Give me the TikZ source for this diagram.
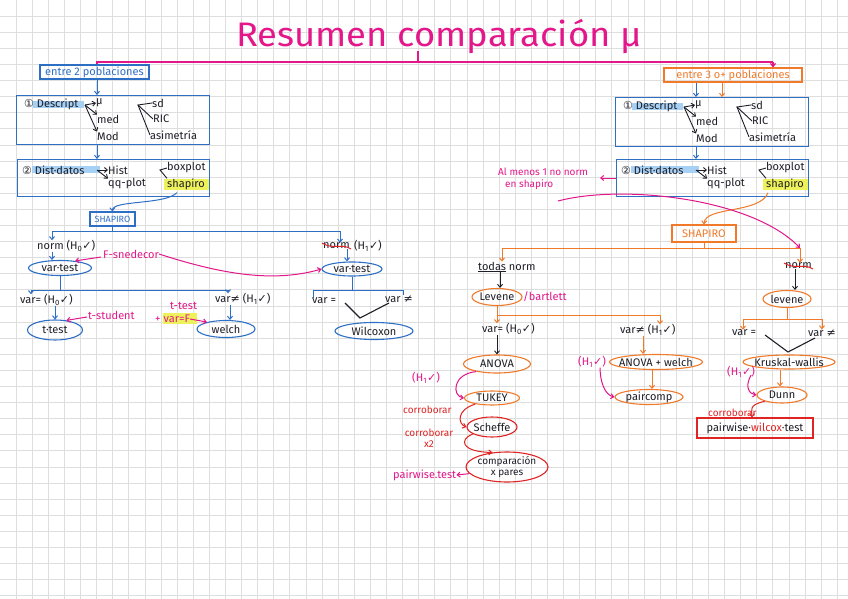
\documentclass[tikz,border=0pt]{standalone}
\usepackage{fontspec}
\setmainfont{Fira Sans}
\newfontfamily\sym{DejaVu Sans}
\usetikzlibrary{arrows.meta,shapes.geometric,calc}
\definecolor{cblue}{HTML}{2E6FC6}
\definecolor{cmag}{HTML}{E3168A}
\definecolor{corange}{HTML}{F07A2A}
\definecolor{cred}{HTML}{E02424}
\definecolor{ctext}{HTML}{1E1E28}
\definecolor{cgrid}{HTML}{DEDEDE}
\definecolor{hlblue}{HTML}{A6D0F4}
\definecolor{hlyellow}{HTML}{EEF25A}
\newcommand{\chk}{{\sym ✓}}
\newcommand{\neqs}{{\sym ≠}}
\newcommand{\hzero}{(H\textsubscript{0}\chk)}
\newcommand{\hone}{(H\textsubscript{1}\chk)}
\tikzset{
  every node/.style={inner sep=0pt, text=ctext, font=\fontsize{11}{12}\selectfont},
  lbl/.style={anchor=west},
  sz/.style 2 args={minimum width=#1, minimum height=#2},
  bluebox/.style={draw=cblue, line width=1.1pt},
  orbox/.style={draw=corange, line width=1.1pt},
  redbox/.style={draw=cred, line width=1.1pt},
  ell/.style 2 args={ellipse, line width=1.1pt, inner xsep=-8pt, inner ysep=-3pt, minimum width=#1, minimum height=#2},
  bl/.style={draw=cblue, line width=1pt},
  or/.style={draw=corange, line width=1pt},
  mg/.style={draw=cmag, line width=1pt},
  rd/.style={draw=cred, line width=1pt},
  bk/.style={draw=ctext, line width=0.9pt},
  ah/.style={-{Straight Barb[length=3pt,width=5pt]}},
  descr/.pic={
    \fill[hlblue] (17,6) rectangle (68,13);
    \node[bluebox, sz={193}{49}, anchor=north west] (-box) at (0,0) {};
    \node[lbl] (-t) at (8,9) {{\sym ①} Descript};
    \node[lbl] (-mu) at (80,8) {μ};
    \node[lbl] (-med) at (81,24) {med};
    \node[lbl] (-mod) at (81,41) {Mod};
    \node[lbl] (-sd) at (136,8) {sd};
    \node[lbl] (-ric) at (137,24) {RIC};
    \node[lbl] (-asi) at (134,40) {asimetría};
    \coordinate (-f1) at (69,10);
    \coordinate (-f2) at (122,10);
    \draw[bk,ah] (-f1) -- (-mu.west);
    \draw[bk,ah] (-f1) -- (-med.north west);
    \draw[bk,ah] (-f1) -- (-mod.north west);
    \draw[bk] (-sd.west) -- (-f2) -- (-ric.west);
    \draw[bk] (-f2) -- (-asi.west);
  },
  distd/.pic={
    \fill[hlblue] (15,7) rectangle (83,14);
    \fill[hlyellow] (147,20) rectangle (192,31);
    \node[bluebox, sz={192}{37}, anchor=north west] (-box) at (0,0) {};
    \node[lbl] (-t) at (5,11) {{\sym ②} Dist·datos};
    \node[lbl] (-hist) at (91,11) {Hist};
    \node[lbl] (-qq) at (91,25) {qq-plot};
    \node[lbl] (-bp) at (150,9) {boxplot};
    \node[lbl] (-sh) at (150,25) {shapiro};
    \coordinate (-f1) at (80,11);
    \coordinate (-f2) at (143,11);
    \draw[bk,ah] (-f1) -- (-hist.west);
    \draw[bk,ah] (-f1) -- (-qq.north west);
    \draw[bk] (-bp.west) -- (-f2) -- (-sh.north west);
  }
}
\begin{document}
\begin{tikzpicture}[x=1pt,y=-1pt]
\useasboundingbox (0,0) rectangle (848,599);
\fill[white] (0,0) rectangle (848,599);
\foreach \i in {1,...,52} \draw[cgrid, line width=0.8pt] (16.1*\i,0) -- (16.1*\i,599);
\foreach \i in {1,...,37} \draw[cgrid, line width=0.8pt] (0,16.1*\i) -- (848,16.1*\i);

% title
\node[text=cmag, font=\fontsize{34}{40}\selectfont] (title) at (439,37) {\scalebox{1.07}[1]{Resumen comparación μ}};
\coordinate (tl) at (97,62);
\coordinate (tr) at (773,62);
\coordinate (tk) at (418,51);
\draw[mg, line width=1.3pt] (tk) -- (tk |- tl);

% ---------- left ----------
\node[bluebox, sz={109}{14}, text=cblue] (e2) at (94.5,72) {entre 2 poblaciones};
\draw[mg, line width=1.3pt] (e2.north -| tl) -- (tl) -- (tr);
\pic (L1) at (16,95) {descr};
\pic (L2) at (17,159) {distd};
\draw[bl,ah] (e2.south -| tl) -- (L1-box.north -| tl);
\draw[bl,ah] (L1-box.south -| tl) -- (L2-box.north -| tl);

\node[bluebox, sz={45}{14}, text=cblue, font=\fontsize{9}{10}\selectfont] (sh1) at (112.5,219) {SHAPIRO};
\draw[bl,ah] ($(L2-sh.south west)+(10,3)$) .. controls (165,205) and (112,200) .. (sh1.north);
\coordinate (j1l) at (52,231);
\coordinate (j1r) at (340,231);
\draw[bl] (sh1.south) -- (sh1.south |- j1l);
\draw[bl] (j1l) -- (j1r);
\node[lbl] (n1) at (37,246) {norm \hzero};
\node[lbl] (n2a) at (323,246) {norm};
\node[lbl] (n2b) at ($(n2a.east)+(4,0)$) {\hone};
\draw[rd] ($(n2a.west)+(-1,-3)$) .. controls ($(n2a.center)+(-4,4)$) and ($(n2a.center)+(6,-3)$) .. ($(n2a.east)+(1,3)$);
\draw[bl,ah] (j1l) -- (j1l |- n1.north);
\draw[bl,ah] (j1r) -- (j1r |- n2a.north);

\node[ell={63}{15}, draw=cblue] (vt1) at (60,268) {var·test};
\node[ell={60}{14}, draw=cblue] (vt2) at (352,269) {var·test};
\draw[bl,ah] (n1.south -| j1l) -- (vt1.north -| j1l);
\coordinate (c347) at (347,0);
\draw[bl,ah] (n2a.south -| c347) -- (vt2.north -| c347);
\node[lbl, text=cmag] (fsn) at (103,254) {F-snedecor};
\draw[mg,ah] ($(fsn.west)+(-2,3)$) -- (vt1.25);
\draw[mg,ah] (fsn.east) .. controls (215,272) and (270,284) .. (vt2.west);

\coordinate (j2l) at (31,290);
\coordinate (j2r) at (228,290);
\draw[bl] (vt1.south) -- (vt1.south |- j2l);
\draw[bl] (j2l) -- (j2r);
\node[lbl] (v1) at (20,300) {var= \hzero};
\node[lbl] (v2) at (215,299) {var\neqs{} \hone};
\draw[bl,ah] (j2l) -- (j2l |- v1.north);
\draw[bl,ah] (j2r) -- (j2r |- v2.north);
\node[ell={55}{20}, draw=cblue] (t1) at (55,330) {t·test};
\draw[bl,ah] (v1.south -| t1) -- (t1.north);
\node[lbl, text=cmag] (tst) at (88,315) {t-student};
\draw[mg,ah] ($(tst.west)+(-1,2)$) -- (t1.40);
\node[ell={58}{17}, draw=cblue] (w1) at (226,329) {welch};
\coordinate (c230) at (230,0);
\draw[bl,ah] (v2.south -| c230) -- (w1.north -| c230);
\node[lbl, text=cmag] (tt) at (170,306) {t-test};
\fill[hlyellow] (163,313) rectangle (197,324);
\node[lbl, text=cmag] (pv) at (155,319) {+ var=F};
\draw[mg,ah] (pv.east) -- (w1.160);

\coordinate (j3l) at (313,290);
\coordinate (j3r) at (403,290);
\draw[bl] (vt2.south) -- (vt2.south |- j3l);
\draw[bl] (j3l) -- (j3r);
\node[lbl] (v3) at (312,301) {var =};
\node[lbl] (v4) at (385,299) {var \neqs};
\draw[bl] (j3l) -- (j3l |- v3.north);
\draw[bl] (j3r) -- (j3r |- v4.north);
\coordinate (vv1) at (345,303);
\coordinate (vv2) at (360,318);
\coordinate (vv3) at (389,303);
\draw[bk, line width=1.1pt] (vv1) -- (vv2) -- (vv3);
\node[ell={78}{17}, draw=cblue] (wil) at (374,331) {Wilcoxon};

% ---------- right ----------
\node[orbox, sz={138}{14}, text=corange] (e3) at (733,75) {entre 3 o+ poblaciones};
\draw[mg,ah, line width=1.3pt] (tr) -- (tr |- e3.north);
\pic (R1) at (615,97) {descr};
\pic (R2) at (616,159) {distd};
\coordinate (c696) at (696,0);
\coordinate (c722) at (722,0);
\draw[bl,ah] (e3.south -| c696) -- (R1-box.north -| c696);
\draw[or,ah] (e3.south -| c722) -- (R1-box.north -| c722);
\draw[bl,ah] (R1-box.south -| c696) -- (R2-box.north -| c696);

\node[lbl, text=cmag, font=\fontsize{10}{11}\selectfont] (alm) at (498,172) {Al menos 1 no norm};
\node[lbl, text=cmag, font=\fontsize{10}{11}\selectfont] (alm2) at (505,185) {en shapiro};
\coordinate (almtip) at (600,178);
\draw[mg,ah] (R2-box.west |- almtip) -- (almtip);

\node[orbox, sz={64}{17}, text=corange] (sh2) at (704,233.5) {SHAPIRO};
\draw[or,ah] ($(R2-sh.south west)+(2,3)$) .. controls (760,214) and (705,206) .. (sh2.north);
\coordinate (j4l) at (502,248);
\coordinate (j4r) at (800,248);
\coordinate (mgs) at (558,201);
\draw[mg,ah] (mgs) .. controls (622,184) and (752,198) .. (j4r);
\draw[or] (sh2.south) -- (sh2.south |- j4l);
\draw[or] (j4l) -- (j4r);
\node[lbl] (tn) at (478,267) {\underline{todas} norm};
\node[lbl] (n4) at (785,266) {norm};
\draw[rd] ($(n4.west)+(-1,-3)$) .. controls ($(n4.center)+(-4,4)$) and ($(n4.center)+(6,-3)$) .. ($(n4.east)+(1,3)$);
\draw[or,ah] (j4l) -- (j4l |- tn.north);
\draw[or,ah] (j4r) -- (j4r |- n4.north);

\node[ell={50}{17}, draw=corange] (lev1) at (497,297) {Levene};
\node[lbl, text=cmag] (bart) at (523,297) {/bartlett};
\node[ell={48}{17}, draw=corange] (lev2) at (787,299) {levene};
\coordinate (c500) at (500,0);
\coordinate (c795) at (795,0);
\draw[bk,ah] (tn.south -| c500) -- (lev1.north -| c500);
\draw[bk,ah] (n4.south -| c795) -- (lev2.north -| c795);

\coordinate (j5l) at (500,315);
\coordinate (j5r) at (660,315);
\node[lbl] (v5) at (482,329) {var= \hzero};
\node[lbl] (v6) at (620,330) {var\neqs{} \hone};
\draw[or] (lev1.south |- j5l) -- (j5r);
\draw[or,ah] (lev1.south) -- (lev1.south |- v5.north);
\draw[or,ah] (j5r) -- (j5r |- v6.north);

\node[ell={67}{18}, draw=corange] (anova) at (497,364) {ANOVA};
\draw[bk,ah] (v5.south -| anova) -- (anova.north);
\node[lbl, text=cmag] (h1a) at (412,378) {\hone};
\node[ell={55}{14}, draw=corange] (tukey) at (492,398) {TUKEY};
\draw[mg,ah] (anova.200) .. controls (452,374) and (452,396) .. (tukey.west);
\node[lbl, text=cred, font=\fontsize{10}{11}\selectfont] (cor1) at (403,410) {corroborar};
\node[ell={50}{20}, draw=cred] (scheffe) at (492,427) {Scheffe};
\draw[rd,ah] (tukey.200) .. controls (456,410) and (458,424) .. (scheffe.west);
\node[text=cred, font=\fontsize{10}{11}\selectfont, align=center] (cor2) at (429,438) {corroborar\\x2};
\node[ell={82}{30}, draw=cred, align=center, font=\fontsize{10}{11}\selectfont] (comp) at (507,467) {comparación\\x pares};
\draw[rd,ah] (scheffe.200) .. controls (458,440) and (462,452) .. (comp.135);
\node[lbl, text=cmag] (pw) at (393,475) {pairwise.test};
\draw[mg,ah] (comp.190) -- (pw.east);

\node[ell={93}{15}, draw=corange] (aw) at (656,362) {ANOVA + welch};
\coordinate (c643) at (643,0);
\coordinate (c652) at (652,0);
\draw[or,ah] (v6.south -| c643) -- (aw.north -| c643);
\node[lbl, text=cmag] (h1b) at (578,362) {\hone};
\node[ell={68}{15}, draw=corange] (pc) at (649,397) {paircomp};
\draw[mg,ah] ($(h1b.south east)+(-6,0)$) .. controls (600,382) and (605,395) .. (pc.west);
\draw[or,ah] (aw.south -| c652) -- (pc.north -| c652);

\coordinate (j6l) at (743,319);
\coordinate (j6r) at (822,319);
\node[lbl] (v7) at (732,333) {var =};
\node[lbl] (v8) at (808,333) {var \neqs};
\draw[or] (lev2.south) -- (lev2.south |- j6l);
\draw[or] (j6l) -- (j6r);
\draw[or,ah] (j6l) -- (j6l |- v7.north);
\draw[or,ah] (j6r) -- (j6r |- v8.north);
\coordinate (vw1) at (765,335);
\coordinate (vw2) at (788,352);
\coordinate (vw3) at (815,338);
\draw[bk, line width=1.1pt] (vw1) -- (vw2) -- (vw3);
\node[ell={92}{14}, draw=corange] (kw) at (789,362) {Kruskal-wallis};
\node[lbl, text=cmag] (h1c) at (727,372) {\hone};
\node[ell={50}{16}, draw=corange] (dunn) at (782,395) {Dunn};
\coordinate (c780) at (780,0);
\draw[or,ah] (kw.south -| c780) -- (dunn.north -| c780);
\draw[mg,ah] ($(h1c.east)+(-4,3)$) .. controls (744,388) and (750,394) .. (dunn.west);
\node[lbl, text=cred, font=\fontsize{10}{11}\selectfont] (cor3) at (708,413) {corroborar};
\node[redbox, sz={116}{20}] (pwb) at (755,428) {pairwise·\textcolor{cred}{wilcox}·test};
\coordinate (c752) at (752,0);
\draw[rd,ah] (dunn.200) .. controls (748,405) and (752,410) .. (pwb.north -| c752);
\end{tikzpicture}
\end{document}
